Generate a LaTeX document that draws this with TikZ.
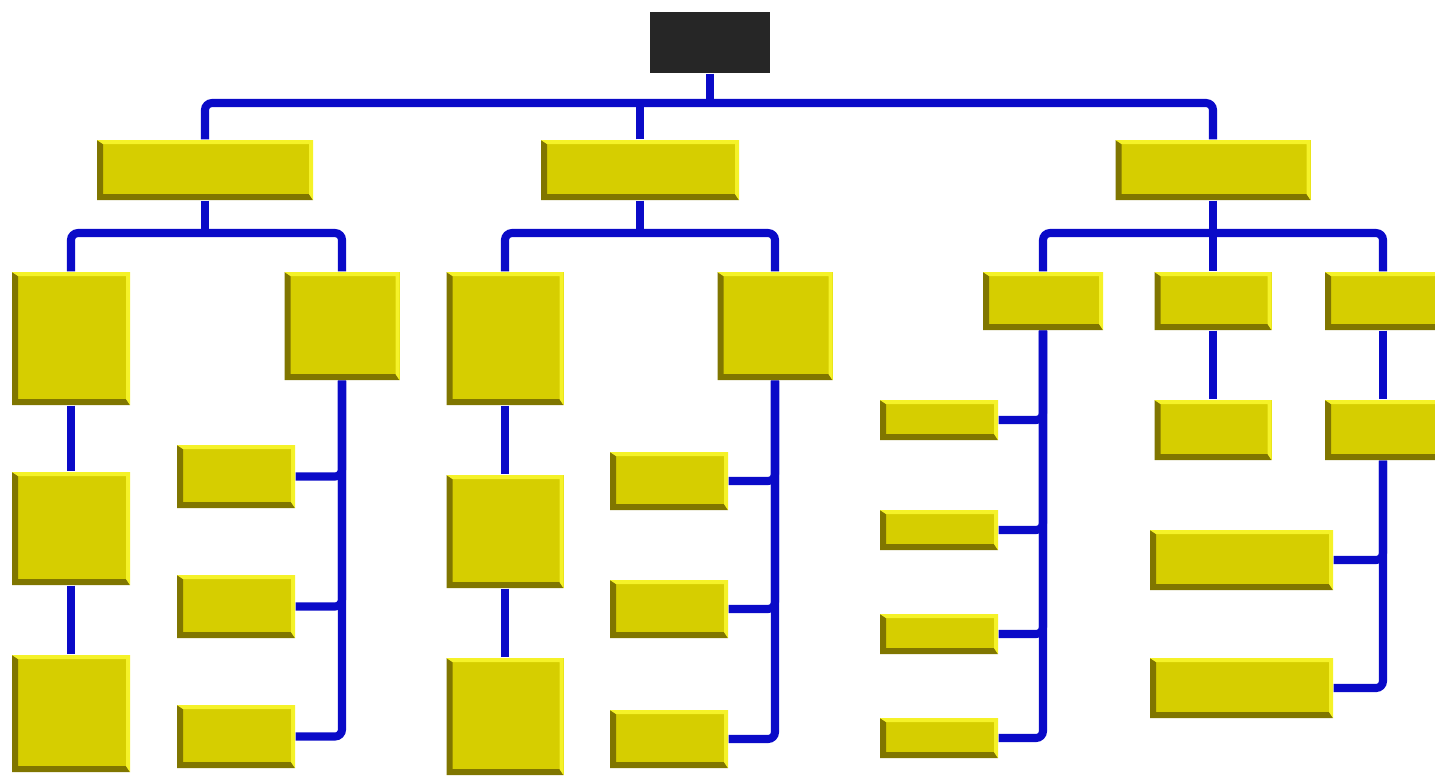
\documentclass[tikz,border=0pt]{standalone}
\usepackage{tikz}
\usetikzlibrary{calc, backgrounds}
\definecolor{cableazul}{RGB}{10,10,200}
\definecolor{cajamed}{RGB}{214,206,0}
\definecolor{cajaosc}{RGB}{128,118,0}
\definecolor{cajaclara}{RGB}{245,242,40}
\tikzset{
  caja/.style 2 args={rectangle, inner sep=0pt, fill=cajamed, minimum width=#1cm, minimum height=#2cm,
    path picture={
      \fill[cajaosc] (path picture bounding box.north west) -- (path picture bounding box.south west)
        -- (path picture bounding box.south east) -- ($(path picture bounding box.south east)+(-0.04,0.06)$)
        -- ($(path picture bounding box.south west)+(0.06,0.06)$) -- ($(path picture bounding box.north west)+(0.06,-0.04)$) -- cycle;
      \fill[cajaclara] (path picture bounding box.north west) -- (path picture bounding box.north east)
        -- (path picture bounding box.south east) -- ($(path picture bounding box.south east)+(-0.04,0.06)$)
        -- ($(path picture bounding box.north east)+(-0.04,-0.04)$) -- ($(path picture bounding box.north west)+(0.06,-0.04)$) -- cycle;
    }},
  raiz/.style={rectangle, inner sep=0pt, fill=black!85, minimum width=1.2cm, minimum height=0.61cm},
  cable/.style={draw=cableazul, line width=2.3pt, rounded corners=2pt}
}
\begin{document}
\begin{tikzpicture}
  \useasboundingbox (0,0) rectangle (14.35,-7.78);

  % 1. Nodo raiz y primer nivel
  \node[raiz] (root) at (7.10,-0.425) {};
  \node[caja={2.16}{0.60}] (A) at (2.05,-1.70) {};
  \node[caja={1.98}{0.60}] (B) at (6.40,-1.70) {};
  \node[caja={1.95}{0.60}] (C) at (12.13,-1.70) {};

  % 2. Rama A
  \node[caja={1.18}{1.33}] (A1) at (0.71,-3.385) {};
  \node[caja={1.15}{1.08}] (A2) at (3.42,-3.26) {};
  \node[caja={1.18}{1.13}] (A3) at (0.71,-5.285) {};
  \node[caja={1.18}{1.17}] (A4) at (0.71,-7.135) {};
  \node[caja={1.18}{0.63}] (Aa) at (2.36,-4.765) {};
  \node[caja={1.18}{0.63}] (Ab) at (2.36,-6.065) {};
  \node[caja={1.18}{0.63}] (Ac) at (2.36,-7.365) {};

  % 3. Rama B
  \node[caja={1.17}{1.33}] (B1) at (5.05,-3.385) {};
  \node[caja={1.15}{1.08}] (B2) at (7.75,-3.26) {};
  \node[caja={1.17}{1.13}] (B3) at (5.05,-5.315) {};
  \node[caja={1.17}{1.17}] (B4) at (5.05,-7.165) {};
  \node[caja={1.18}{0.58}] (Ba) at (6.69,-4.81) {};
  \node[caja={1.18}{0.58}] (Bb) at (6.69,-6.09) {};
  \node[caja={1.18}{0.58}] (Bc) at (6.69,-7.39) {};

  % 4. Rama C
  \node[caja={1.20}{0.58}] (C1) at (10.43,-3.01) {};
  \node[caja={1.17}{0.58}] (C2) at (12.13,-3.01) {};
  \node[caja={1.16}{0.58}] (C3) at (13.83,-3.01) {};
  \node[caja={1.18}{0.40}] (Ca) at (9.39,-4.20) {};
  \node[caja={1.18}{0.40}] (Cb) at (9.39,-5.30) {};
  \node[caja={1.18}{0.40}] (Cc) at (9.39,-6.34) {};
  \node[caja={1.18}{0.40}] (Cd) at (9.39,-7.38) {};
  \node[caja={1.17}{0.60}] (C2a) at (12.13,-4.30) {};
  \node[caja={1.16}{0.60}] (C3a) at (13.83,-4.30) {};
  \node[caja={1.83}{0.60}] (C3b) at (12.415,-5.60) {};
  \node[caja={1.83}{0.60}] (C3c) at (12.415,-6.88) {};

  % 5. Cables (detras de las cajas)
  \coordinate (busR) at (7.10,-1.03);
  \coordinate (busA) at (2.05,-2.33);
  \coordinate (busB) at (6.40,-2.33);
  \coordinate (busC) at (12.13,-2.33);
  \begin{scope}[on background layer]
    \draw[cable] (root.south) -- (busR);
    \draw[cable] (A.north) |- (busR) -| (C.north);
    \draw[cable] (B.north) -- (B.north |- busR);

    \draw[cable] (A.south) -- (busA);
    \draw[cable] (A1.north) |- (busA) -| (A2.north);
    \draw[cable] (A1) -- (A3) -- (A4);
    \foreach \h in {Aa,Ab,Ac} \draw[cable] (A2.south) |- (\h.east);

    \draw[cable] (B.south) -- (busB);
    \draw[cable] (B1.north) |- (busB) -| (B2.north);
    \draw[cable] (B1) -- (B3) -- (B4);
    \foreach \h in {Ba,Bb,Bc} \draw[cable] (B2.south) |- (\h.east);

    \draw[cable] (C.south) -- (busC);
    \draw[cable] (C1.north) |- (busC) -| (C3.north);
    \draw[cable] (busC) -- (C2.north);
    \foreach \h in {Ca,Cb,Cc,Cd} \draw[cable] (C1.south) |- (\h.east);
    \draw[cable] (C2) -- (C2a);
    \draw[cable] (C3) -- (C3a);
    \foreach \h in {C3b,C3c} \draw[cable] (C3a.south) |- (\h.east);
  \end{scope}

\end{tikzpicture}
\end{document}
